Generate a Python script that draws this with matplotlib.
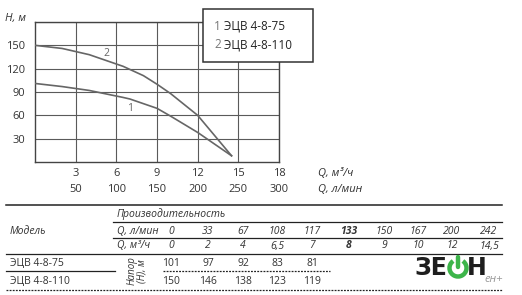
import matplotlib
matplotlib.use("Agg")
import matplotlib.pyplot as plt
from matplotlib.patches import Rectangle, Arc

plt.rcParams['font.family'] = ['Open Sans', 'DejaVu Sans']

# data
q_m3h = [0, 2, 4, 6.5, 7, 8, 9, 10, 12, 14.5]
q_lmin = [0, 33, 67, 108, 117, 133, 150, 167, 200, 242]
q_m3h_lbl = ['0', '2', '4', '6,5', '7', '8', '9', '10', '12', '14,5']
head_75 = [101, 97, 92, 83, 81, 75, 69, 59, 38, 8]
head_110 = [150, 146, 138, 123, 119, 111, 100, 88, 60, 8]
models = ['ЭЦВ 4-8-75', 'ЭЦВ 4-8-110']
x_ticks = [3, 6, 9, 12, 15, 18]
x_ticks_lmin = [50, 100, 150, 200, 250, 300]
y_ticks = [30, 60, 90, 120, 150]
n_visible = 5  # table columns not hidden by the logo

W, H = 522, 295
fig = plt.figure(figsize=(W / 100, H / 100), dpi=100)
fig.patch.set_facecolor('white')

txt = '#333333'
grid = '#5a5a5a'

# chart
ax = fig.add_axes([35 / W, (H - 162) / H, 244 / W, 140 / H])
ax.set_xlim(0, 18)
ax.set_ylim(0, 180)
ax.set_xticks(x_ticks)
ax.set_yticks(y_ticks)
ax.tick_params(length=0, labelsize=8, colors=txt)
ax.tick_params(axis='x', pad=4)
ax.tick_params(axis='y', pad=7)
for x in x_ticks:
    ax.axvline(x, color=grid, lw=0.8, zorder=1)
for y in y_ticks + [180]:
    ax.axhline(y, color=grid, lw=0.8, zorder=1)
for s in ax.spines.values():
    s.set_color('#444444')
    s.set_linewidth(1)

ax.plot(q_m3h, head_75, color='#666666', lw=1.2, zorder=3)
ax.plot(q_m3h, head_110, color='#666666', lw=1.2, zorder=3)
ax.text(7.0, 69, '1', fontsize=7.5, color='#666666', ha='center', va='center')
ax.text(5.3, 140, '2', fontsize=7.5, color='#666666', ha='center', va='center')

xt = ax.get_xaxis_transform()
for x, lbl in zip(x_ticks, x_ticks_lmin):
    ax.text(x, -0.2, str(lbl), transform=xt, fontsize=8, color=txt,
            ha='center', va='center')

# overlay for annotations and table (pixel coordinates)
ot = fig.add_axes([0, 0, 1, 1])
ot.set_xlim(0, W)
ot.set_ylim(H, 0)
ot.axis('off')
ot.patch.set_visible(False)

ot.text(5, 18, 'H, м', fontsize=8, style='italic', color=txt, va='center')
ot.text(318, 173, 'Q, м³/ч', fontsize=8, style='italic', color=txt, va='center')
ot.text(318, 190, 'Q, л/мин', fontsize=8, style='italic', color=txt, va='center')

# legend box
ot.add_patch(Rectangle((203, 9), 110, 53, facecolor='white',
                       edgecolor='#333333', lw=1.1, zorder=5))
for i, (m, y) in enumerate(zip(models, [26, 45])):
    ot.text(214, y, str(i + 1), fontsize=8.5, color='#777777', va='center', zorder=6)
    ot.text(224, y, m, fontsize=8.5, color='#222222', va='center', zorder=6)

# table
lc = '#222222'
ot.plot([6, 502], [205, 205], color=lc, lw=1.1)
ot.plot([113, 502], [222, 222], color=lc, lw=0.9)
ot.plot([113, 502], [238, 238], color=lc, lw=0.9)
ot.plot([6, 502], [254, 254], color=lc, lw=0.9)
ot.plot([6, 115], [271, 271], color=lc, lw=0.9)
ot.plot([163, 330], [271, 271], color=lc, lw=0.9, ls=(0, (1.5, 1)))
ot.plot([6, 502], [290, 290], color=lc, lw=0.9, ls=(0, (1.5, 1)))

ot.text(117, 214, 'Производительность', fontsize=7.5, style='italic', color=txt, va='center')
ot.text(10, 232, 'Модель', fontsize=7.5, style='italic', color=txt, va='center')
ot.text(117, 231, 'Q, л/мин', fontsize=7.5, style='italic', color=txt, va='center')
ot.text(117, 246, 'Q, м³/ч', fontsize=7.5, style='italic', color=txt, va='center')
ot.text(137, 271, 'Напор\n(H), м', fontsize=7, style='italic', color=txt,
        rotation=90, ha='center', va='center', linespacing=0.95)

cols = [171, 208, 243, 277, 312, 349, 384, 418, 452, 489]
for i, (cx, a, b) in enumerate(zip(cols, q_lmin, q_m3h_lbl)):
    w = 'bold' if i == 5 else 'normal'
    ot.text(cx, 231, str(a), fontsize=7.5, style='italic', color=txt,
            ha='center', va='center', weight=w)
    ot.text(cx, 246, b, fontsize=7.5, style='italic', color=txt,
            ha='center', va='center', weight=w)
for y, (m, vals) in zip([264, 281], zip(models, [head_75, head_110])):
    ot.text(10, y, m, fontsize=7.5, color=txt, va='center')
    for cx, v in zip(cols[:n_visible], vals[:n_visible]):
        ot.text(cx, y, str(v), fontsize=7.5, color=txt, ha='center', va='center')

# logo
ot.text(414, 268, 'ЗЕ', fontsize=17, weight='bold', color='#1e1e1e',
        va='center', ha='left', family='DejaVu Sans', zorder=8)
ot.add_patch(Arc((458, 268), 17, 17, theta1=-55, theta2=235,
                 color='#3db54a', lw=3.2, zorder=8))
ot.plot([458, 458], [257, 267], color='#3db54a', lw=3.2,
        solid_capstyle='round', zorder=8)
ot.text(467, 268, 'Н', fontsize=17, weight='bold', color='#1e1e1e',
        va='center', ha='left', family='DejaVu Sans', zorder=8)
ot.text(484, 279, 'ен+', fontsize=8, style='italic', color='#999999',
        va='center', ha='left', zorder=8)

fig.savefig('out.png', dpi=100)
